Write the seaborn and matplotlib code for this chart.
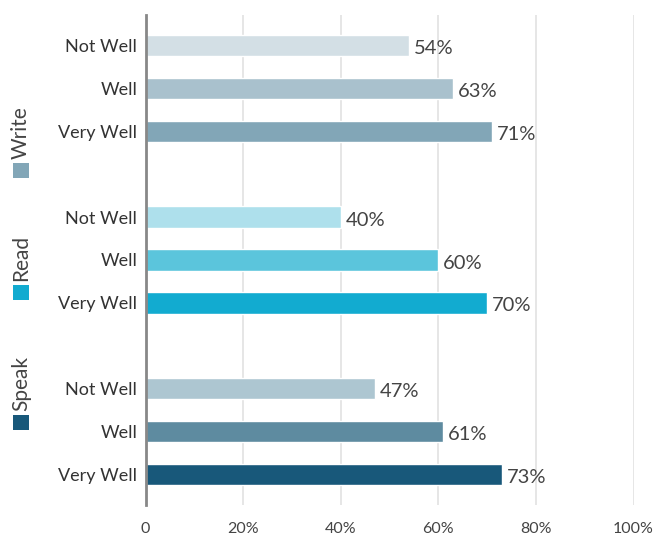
import matplotlib
matplotlib.use("Agg")
import matplotlib.pyplot as plt
import seaborn as sns
import pandas as pd
from matplotlib.patches import Rectangle

groups = ["Write", "Read", "Speak"]
levels = ["Not Well", "Well", "Very Well"]
write_vals = [54, 63, 71]
read_vals = [40, 60, 70]
speak_vals = [47, 61, 73]
write_colors = ["#d3dfe5", "#a9c1cd", "#82a6b7"]
read_colors = ["#aee0ec", "#5bc5dc", "#12abd0"]
speak_colors = ["#adc6d1", "#5e8ba0", "#18587a"]
group_swatch = ["#82a6b7", "#12abd0", "#18587a"]
x_ticks = [0, 20, 40, 60, 80, 100]
x_ticklabels = ["0", "20%", "40%", "60%", "80%", "100%"]

sns.set_theme(style="white")
plt.rcParams["font.family"] = ["Lato", "DejaVu Sans"]

rows = []
palette = {}
for gi, (g, vals, cols) in enumerate(zip(groups, [write_vals, read_vals, speak_vals],
                                          [write_colors, read_colors, speak_colors])):
    for li, (lvl, v, c) in enumerate(zip(levels, vals, cols)):
        key = f"{g}-{lvl}"
        rows.append({"group": g, "level": lvl, "value": v, "pos": gi * 4 + li, "key": key})
        palette[key] = c
df = pd.DataFrame(rows)

fig = plt.figure(figsize=(6.56, 5.39), dpi=100)
W, H = 656, 539
ax = fig.add_axes([145.5 / W, 1 - 505 / H, 488 / W, 490 / H])

sns.barplot(data=df, x="value", y="pos", hue="key", palette=palette, orient="h",
            native_scale=True, dodge=False, width=0.49, legend=False,
            saturation=1, ax=ax)

ax.set_xlim(0, 100)
ax.set_ylim(10.7, -0.7)
ax.set_xticks(x_ticks)
ax.set_xticklabels(x_ticklabels, fontsize=11.5, color="#444444")
ax.set_yticks(df["pos"])
ax.set_yticklabels(df["level"], fontsize=13, color="#333333")
ax.tick_params(axis="both", length=0)
ax.tick_params(axis="y", pad=6)
ax.tick_params(axis="x", pad=12)
ax.set_xlabel("")
ax.set_ylabel("")
ax.grid(axis="x", color="#e2e2e2", linewidth=1.2)
ax.set_axisbelow(True)
for s in ["top", "right", "bottom"]:
    ax.spines[s].set_visible(False)
ax.spines["left"].set_color("#888888")
ax.spines["left"].set_linewidth(2)

for _, r in df.iterrows():
    ax.text(r["value"] + 1.0, r["pos"] + 0.07, f"{r['value']}%", va="center", ha="left",
            fontsize=14.5, color="#444444")

swatch_tops = [163, 285, 415]
for g, c, top in zip(groups, group_swatch, swatch_tops):
    fig.patches.append(Rectangle((13 / W, 1 - (top + 15) / H), 16 / W, 15 / H,
                                 transform=fig.transFigure, facecolor=c, edgecolor="none"))
    fig.text(21 / W, 1 - (top - 4) / H, g, rotation=90, ha="center", va="bottom",
             fontsize=15, color="#444444")

fig.savefig("out.png", dpi=100)
